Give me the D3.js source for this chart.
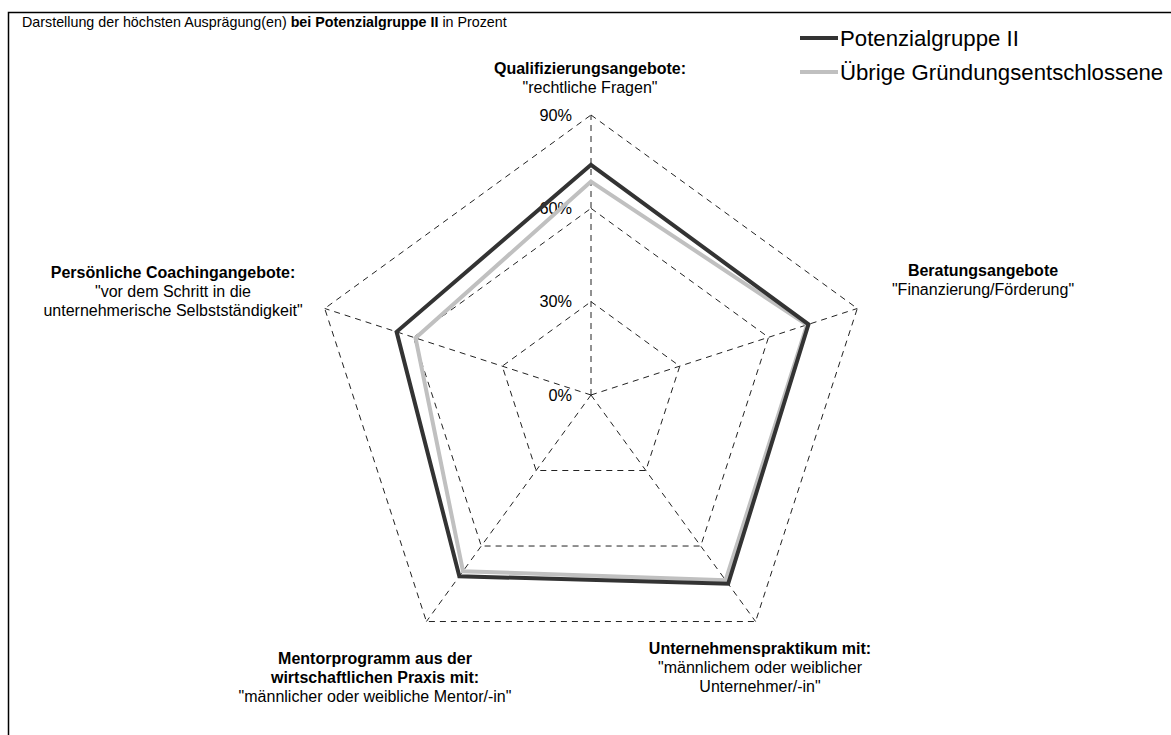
<!DOCTYPE html>
<html><head><meta charset="utf-8">
<script src="https://cdn.jsdelivr.net/npm/d3@7"></script>
<style>body{margin:0;background:#fff}svg{display:block;font-family:"Liberation Sans",Arial,sans-serif}</style>
</head><body><svg id="c" width="1171" height="735"></svg>
<script>
const categories = ["Qualifizierungsangebote", "Beratungsangebote", "Unternehmenspraktikum", "Mentorprogramm", "Persönliche Coachingangebote"];
const seriesNames = ["Potenzialgruppe II", "Übrige Gründungsentschlossene"];
const potenzialgruppe = [74, 73.5, 75, 72, 65.7];
const uebrige = [68.6, 73, 73.6, 70, 59.3];
const ticks = [0, 30, 60, 90];
const tickLabels = ["0%", "30%", "60%", "90%"];
const labelLines = [
  [["Qualifizierungsangebote:", true], ["\"rechtliche Fragen\"", false]],
  [["Beratungsangebote", true], ["\"Finanzierung/Förderung\"", false]],
  [["Unternehmenspraktikum mit:", true], ["\"männlichem oder weiblicher", false], ["Unternehmer/-in\"", false]],
  [["Mentorprogramm aus der", true], ["wirtschaftlichen Praxis mit:", true], ["\"männlicher oder weibliche Mentor/-in\"", false]],
  [["Persönliche Coachingangebote:", true], ["\"vor dem Schritt in die", false], ["unternehmerische Selbstständigkeit\"", false]]
];

const svg = d3.select("#c");
const cx = 591, cy = 395;
const r = d3.scaleLinear().domain([0, 90]).range([0, 280]);
const ang = d3.scaleLinear().domain([0, categories.length]).range([-Math.PI/2, 1.5*Math.PI]);
const pt = (i, v) => [cx + r(v)*Math.cos(ang(i)), cy + r(v)*Math.sin(ang(i))];

// frame
svg.append("rect").attr("x", 8.5).attr("y", 12.5).attr("width", 1200).attr("height", 800)
  .attr("fill", "none").attr("stroke", "#000").attr("stroke-width", 1.5);

svg.append("text").attr("x", 22).attr("y", 27).attr("font-size", 14.3).attr("fill", "#000")
  .call(t => {
    t.append("tspan").text("Darstellung der höchsten Ausprägung(en) ");
    t.append("tspan").attr("font-weight", "bold").text("bei Potenzialgruppe II");
    t.append("tspan").text(" in Prozent");
  });

// grid
const grid = svg.append("g").attr("fill", "none").attr("stroke", "#222").attr("stroke-width", 1).attr("stroke-dasharray", "6,5");
ticks.filter(t => t > 0).forEach(t => {
  grid.append("path").attr("d", d3.line()(d3.range(categories.length).map(i => pt(i, t))) + "Z");
});
categories.forEach((c, i) => {
  grid.append("path").attr("d", d3.line()([pt(i, 0), pt(i, 90)]));
});

// tick labels
ticks.forEach((t, k) => {
  const p = pt(0, t);
  svg.append("text").attr("x", p[0] - 19).attr("y", p[1]).attr("dy", "0.35em")
    .attr("text-anchor", "end").attr("font-size", 16.3).attr("fill", "#000").text(tickLabels[k]);
});

// series
const line = d3.line().curve(d3.curveLinearClosed);
[[uebrige, "#c0c0c0"], [potenzialgruppe, "#333333"]].forEach(([vals, col]) => {
  svg.append("path").attr("d", line(vals.map((v, i) => pt(i, v))))
    .attr("fill", "none").attr("stroke", col).attr("stroke-width", 4).attr("stroke-linejoin", "miter");
});

// axis labels: anchor offsets from center
const labelPos = [[-1, -327], [392, -125], [169, 253], [-216, 263], [-418, -123]];
labelLines.forEach((lines, i) => {
  const g = svg.append("text").attr("text-anchor", "middle").attr("font-size", 16).attr("fill", "#000");
  lines.forEach(([s, b], j) => {
    g.append("tspan").attr("x", cx + labelPos[i][0]).attr("y", cy + labelPos[i][1] + j*19)
      .attr("dy", "0.35em").attr("font-weight", b ? "bold" : "normal").text(s);
  });
});

// legend
const legCol = ["#333333", "#c0c0c0"];
seriesNames.forEach((n, i) => {
  const y = 38 + i*34;
  svg.append("line").attr("x1", 800).attr("x2", 838).attr("y1", y).attr("y2", y)
    .attr("stroke", legCol[i]).attr("stroke-width", 4);
  svg.append("text").attr("x", 840).attr("y", y).attr("dy", "0.35em").attr("font-size", 22.2).attr("fill", "#000").text(n);
});
</script></body></html>
